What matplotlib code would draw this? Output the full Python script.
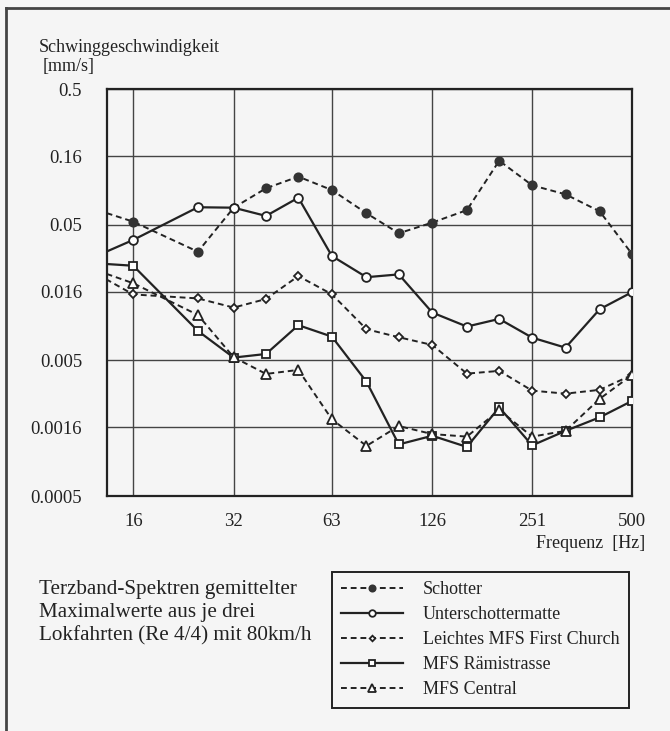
import matplotlib
matplotlib.use('Agg')
import matplotlib.pyplot as plt
from matplotlib.lines import Line2D

# third-octave band centre frequencies (20 Hz band not measured)
freq = [12.5, 16, 25, 32, 40, 50, 63, 80, 100, 126, 160, 200, 251, 316, 400, 500]

# vibration velocity in mm/s
schotter = [0.064, 0.0526, 0.0316, 0.0667, 0.0927, 0.113, 0.090, 0.0607, 0.0432,
            0.0518, 0.064, 0.148, 0.0975, 0.0837, 0.0627, 0.0304]
unterschotter = [0.0296, 0.0386, 0.0672, 0.0667, 0.058, 0.079, 0.0294, 0.0205, 0.0215,
                 0.01125, 0.00887, 0.0101, 0.00735, 0.0062, 0.0119, 0.0159]
leichtes = [0.0215, 0.0153, 0.0143, 0.01224, 0.01416, 0.0209, 0.01535, 0.00848, 0.0074,
            0.00649, 0.00399, 0.00418, 0.00299, 0.00284, 0.00303, 0.0039]
raemi = [0.0259, 0.0249, 0.00824, 0.00524, 0.00557, 0.00908, 0.00748, 0.00348, 0.00120,
         0.00139, 0.00115, 0.00225, 0.00118, 0.00151, 0.0019, 0.00251]
central = [0.0229, 0.0185, 0.0108, 0.00527, 0.00397, 0.00425, 0.00184, 0.00117, 0.00164,
           0.00143, 0.00137, 0.00215, 0.00137, 0.00151, 0.0026, 0.0039]

names = ['Schotter', 'Unterschottermatte', 'Leichtes MFS First Church',
         'MFS Rämistrasse', 'MFS Central']

xticks = [16, 32, 63, 126, 251, 500]
xticklabels = ['16', '32', '63', '126', '251', '500']
yticks = [0.0005, 0.0016, 0.005, 0.016, 0.05, 0.16, 0.5]
yticklabels = ['0.0005', '0.0016', '0.005', '0.016', '0.05', '0.16', '0.5']

bg = '#f5f5f5'
ink = '#222222'
plt.rcParams['font.family'] = ['Liberation Serif', 'DejaVu Serif']

fig = plt.figure(figsize=(6.7, 7.31), dpi=100, facecolor=bg)
ax = fig.add_axes([107/670, 1 - 496/731, 525/670, 407/731], facecolor=bg)

dash = (0, (3, 2))
styles = [
    dict(ls=dash, marker='o', ms=6, mfc='#333333', mec='#333333'),
    dict(ls='-', marker='o', ms=6.3, mfc='white', mec=ink),
    dict(ls=dash, marker='D', ms=3.8, mfc='white', mec=ink),
    dict(ls='-', marker='s', ms=6.3, mfc='white', mec=ink),
    dict(ls=dash, marker='^', ms=7.5, mfc='white', mec=ink),
]
series = [schotter, unterschotter, leichtes, raemi, central]
handles = []
for vals, st, name in zip(series, styles, names):
    lw = 1.6 if st['ls'] == '-' else 1.4
    h, = ax.plot(freq, vals, color=ink, lw=lw, mew=1.3, label=name, zorder=3, **st)
    handles.append(h)

ax.set_xscale('log')
ax.set_yscale('log')
ax.set_xlim(13.35, 500)
ax.set_ylim(0.0005, 0.5)
ax.set_xticks(xticks)
ax.set_xticklabels(xticklabels)
ax.set_yticks(yticks)
ax.set_yticklabels(yticklabels)
ax.minorticks_off()
ax.tick_params(length=0, labelsize=13.5, colors=ink)
ax.tick_params(axis='y', pad=18)
ax.tick_params(axis='x', pad=12)
ax.grid(True, color='#444444', lw=1.0)
for s in ax.spines.values():
    s.set_linewidth(1.6)
    s.set_color(ink)

fig.text(39/670, 1 - 47/731, 'Schwinggeschwindigkeit', fontsize=13, va='center', color=ink)
fig.text(43/670, 1 - 66/731, '[mm/s]', fontsize=13, va='center', color=ink)
fig.text(645/670, 1 - 543/731, 'Frequenz  [Hz]', fontsize=13, ha='right', va='center', color=ink)

fig.text(39/670, 1 - 580/731, 'Terzband-Spektren gemittelter\nMaximalwerte aus je drei\nLokfahrten (Re 4/4) mit 80km/h',
         fontsize=15.2, va='top', linespacing=1.3, color=ink)

leg = fig.legend(handles=handles, loc='upper left', bbox_to_anchor=(332/670, 1 - 572/731),
                 fontsize=13, frameon=True, fancybox=False, edgecolor=ink,
                 facecolor=bg, framealpha=1, handlelength=3.4, handletextpad=1.1,
                 labelspacing=0.44, borderpad=0.52, borderaxespad=0, markerscale=0.75)
leg.get_frame().set_linewidth(1.4)
for t in leg.get_texts():
    t.set_color(ink)

# outer frame of the figure (left and top edges visible)
fig.add_artist(Line2D([6/670, 6/670], [0, 1 - 8/731], color='#444444', lw=2))
fig.add_artist(Line2D([6/670, 1], [1 - 8/731, 1 - 8/731], color='#444444', lw=2))

fig.savefig('out.png', dpi=100, facecolor=bg)
